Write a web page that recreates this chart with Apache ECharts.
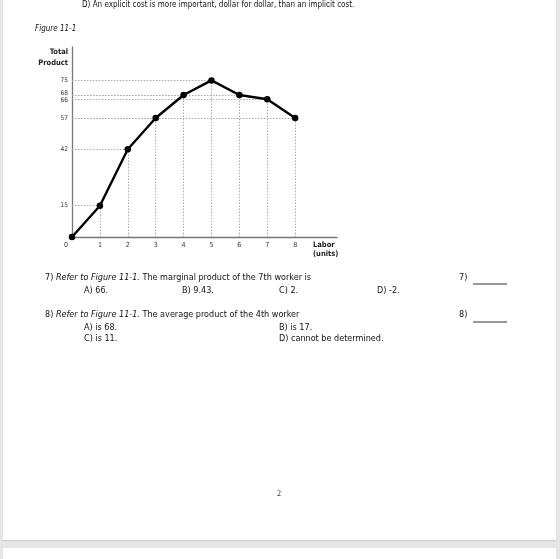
<!DOCTYPE html>
<html><head><meta charset="utf-8">
<script src="https://cdn.jsdelivr.net/npm/echarts@6/dist/echarts.min.js"></script>
<style>
html,body{margin:0;padding:0;background:#e6e6e6;width:560px;height:559px;overflow:hidden;}
.page{position:absolute;background:#fff;}
#chart{position:absolute;left:0;top:0;width:560px;height:559px;}
</style></head><body>
<div class="page" style="left:3px;top:0;width:553px;height:540px;box-shadow:0 1px 1px #ccc;"></div>
<div class="page" style="left:3px;top:548px;width:553px;height:20px;"></div>
<div id="chart"></div>
<script>
// Data
const labor = [0, 1, 2, 3, 4, 5, 6, 7, 8];
const totalProduct = [0, 15, 42, 57, 68, 75, 68, 66, 57];
const yTickValues = [15, 42, 57, 66, 68, 75];
const xTickValues = [0, 1, 2, 3, 4, 5, 6, 7, 8];

const FONT = '"Liberation Sans Narrow","DejaVu Sans Condensed","Arial Narrow",sans-serif';
const TXT = '#111';

const points = labor.map((x, i) => [x, totalProduct[i]]);
const dropLines = [];
points.forEach(([x, y]) => {
  if (x === 0) return;
  dropLines.push([{coord: [0, y]}, {coord: [x, y]}]);
  dropLines.push([{coord: [x, 0]}, {coord: [x, y]}]);
});

const QF = '9px ' + FONT;
function t(x, y, text, extra) {
  return {type: 'text', x: x, y: y, style: Object.assign({text: text, font: QF, fill: TXT, textVerticalAlign: 'middle'}, extra || {})};
}
function q(x, y, num, rest) {
  return {type: 'text', x: x, y: y, style: {
    text: '{n|' + num + ' }{i|Refer to Figure 11-1.}{n| ' + rest + '}',
    textVerticalAlign: 'middle', fill: TXT, font: QF,
    rich: {n: {font: QF, fill: TXT}, i: {font: 'italic ' + QF, fill: TXT}}
  }};
}

const chart = echarts.init(document.getElementById('chart'), null, {renderer: 'canvas'});
chart.setOption({
  backgroundColor: 'transparent',
  animation: false,
  grid: {left: 72, right: 223, top: 47, bottom: 322},
  xAxis: {
    type: 'value', min: 0, max: 9.5, interval: 1,
    splitLine: {show: false},
    axisLine: {show: true, onZero: false, lineStyle: {color: '#777', width: 1.3}},
    axisTick: {show: false},
    axisLabel: {
      customValues: xTickValues, margin: 5, color: '#333', fontSize: 7, fontFamily: FONT,
      formatter: v => v === 0 ? '{z|0}' : String(v),
      rich: {z: {padding: [0, 12, 0, 0], fontSize: 7, color: '#333', fontFamily: FONT}}
    },
    name: 'Labor\n(units)', nameLocation: 'end', nameGap: -24,
    nameTextStyle: {fontSize: 7.5, fontWeight: 'bold', fontFamily: FONT, color: '#222', align: 'left', verticalAlign: 'top', lineHeight: 9, padding: [4, 0, 0, 0]}
  },
  yAxis: {
    type: 'value', min: 0, max: 91,
    splitLine: {show: false},
    axisLine: {show: true, lineStyle: {color: '#777', width: 1.3}},
    axisTick: {show: false},
    axisLabel: {
      customValues: yTickValues, margin: 4, color: '#333', fontSize: 6.5, fontFamily: FONT,
      formatter: v => v === 68 ? '{u|68}' : v === 66 ? '{d|66}' : String(v),
      rich: {
        u: {padding: [0, 0, 3, 0], fontSize: 6.5, color: '#333', fontFamily: FONT},
        d: {padding: [3, 0, 0, 0], fontSize: 6.5, color: '#333', fontFamily: FONT}
      }
    },
    name: 'Total\nProduct', nameLocation: 'end', nameGap: 0,
    nameTextStyle: {fontSize: 7.5, fontWeight: 'bold', fontFamily: FONT, color: '#222', align: 'right', verticalAlign: 'top', lineHeight: 10.5, padding: [0, 4, 0, 0]}
  },
  series: [{
    type: 'line',
    data: points,
    symbol: 'circle', symbolSize: 6.5,
    showSymbol: true,
    lineStyle: {color: '#000', width: 2.4},
    itemStyle: {color: '#000'},
    z: 5,
    markLine: {
      silent: true, symbol: ['none', 'none'], animation: false,
      label: {show: false},
      lineStyle: {color: '#aaa', type: [1.5, 1.5], width: 1},
      emphasis: {disabled: true},
      data: dropLines
    }
  }],
  graphic: [
    t(82, 5, 'D) An explicit cost is more important, dollar for dollar, than an implicit cost.', {font: '8px ' + FONT}),
    t(35, 29, 'Figure 11-1', {font: 'italic 8px ' + FONT}),
    q(45, 278, '7)', 'The marginal product of the 7th worker is'),
    t(84, 290.5, 'A) 66.'), t(182, 290.5, 'B) 9.43.'), t(279, 290.5, 'C) 2.'), t(377, 290.5, 'D) -2.'),
    t(459, 278, '7)'),
    {type: 'line', shape: {x1: 473, y1: 284, x2: 507, y2: 284}, style: {stroke: '#333', lineWidth: 1}},
    q(45, 315, '8)', 'The average product of the 4th worker'),
    t(84, 327.5, 'A) is 68.'), t(279, 327.5, 'B) is 17.'),
    t(84, 339, 'C) is 11.'), t(279, 339, 'D) cannot be determined.'),
    t(459, 315, '8)'),
    {type: 'line', shape: {x1: 473, y1: 322, x2: 507, y2: 322}, style: {stroke: '#333', lineWidth: 1}},
    {type: 'text', x: 279, y: 494, style: {text: '2', font: '8px "Liberation Serif","DejaVu Serif",serif', fill: '#333', textAlign: 'center', textVerticalAlign: 'middle'}}
  ]
});
</script>
</body></html>
